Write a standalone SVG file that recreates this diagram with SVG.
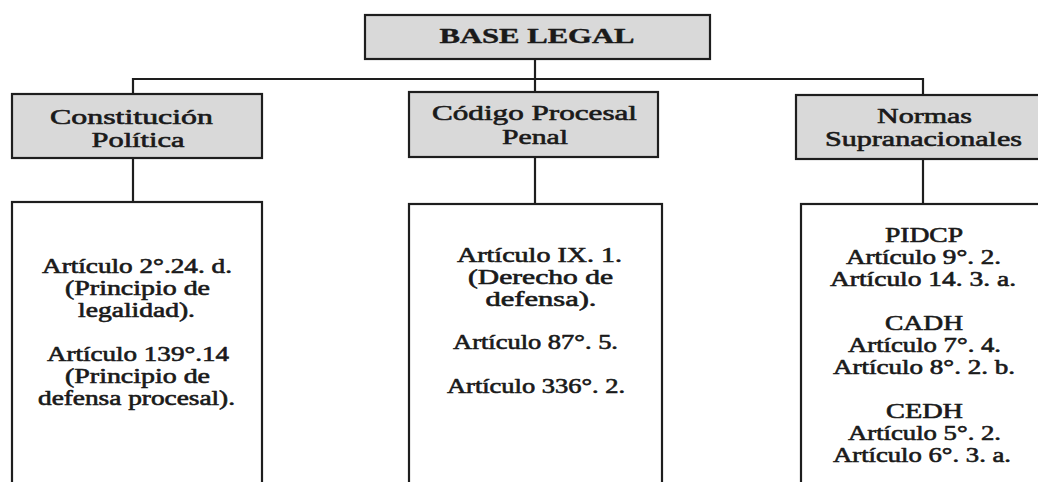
<svg xmlns="http://www.w3.org/2000/svg" width="1038" height="482" viewBox="0 0 1038 482">
<style>
  .hdr { fill: #d9d9d9; stroke: #1e1e1e; stroke-width: 2.2; }
  .box { fill: #ffffff; stroke: #1e1e1e; stroke-width: 2.2; }
  .con { fill: none; stroke: #1e1e1e; stroke-width: 2.2; }
  text { font-family: "Liberation Serif", "Times New Roman", serif; fill: #1a1a1a; stroke: #1a1a1a; stroke-width: 0.6; stroke-linejoin: round; text-anchor: middle; }
  .t { font-size: 21px; }
  .b { font-size: 20px; }
  .title { font-size: 20px; font-weight: bold; stroke-width: 0.4; }
</style>
<rect width="1038" height="482" fill="#ffffff"/>
<g id="connectors">
  <path class="con" d="M535 59 V79"/>
  <path class="con" d="M133 94 V79 H923 V96"/>
  <path class="con" d="M535 79 V92"/>
  <path class="con" d="M133 158 V202"/>
  <path class="con" d="M535 157 V204"/>
  <path class="con" d="M923 159 V204"/>
</g>
<g id="base-legal">
  <rect class="hdr" x="365" y="15" width="345" height="44"/>
  <text class="title" transform="translate(537 43) scale(1.53 1)" textLength="127.5" lengthAdjust="spacingAndGlyphs">BASE LEGAL</text>
</g>
<g id="constitucion">
  <rect class="hdr" x="12" y="94" width="250" height="64"/>
  <text class="t" transform="translate(131.5 124) scale(1.45 1)" textLength="112.4" lengthAdjust="spacingAndGlyphs">Constitución</text>
  <text class="t" transform="translate(138 147) scale(1.45 1)" textLength="64.1" lengthAdjust="spacingAndGlyphs">Política</text>
</g>
<g id="codigo">
  <rect class="hdr" x="409" y="92" width="249" height="65"/>
  <text class="t" transform="translate(534.5 120) scale(1.45 1)" textLength="141.4" lengthAdjust="spacingAndGlyphs">Código Procesal</text>
  <text class="t" transform="translate(535 144) scale(1.45 1)" textLength="45.5" lengthAdjust="spacingAndGlyphs">Penal</text>
</g>
<g id="normas">
  <rect class="hdr" x="796" y="95" width="260" height="64"/>
  <text class="t" transform="translate(924.5 123) scale(1.45 1)" textLength="65.5" lengthAdjust="spacingAndGlyphs">Normas</text>
  <text class="t" transform="translate(923.5 146) scale(1.45 1)" textLength="135.9" lengthAdjust="spacingAndGlyphs">Supranacionales</text>
</g>
<g id="constitucion-articulos">
  <rect class="box" x="12" y="202" width="250" height="300"/>
  <text class="b" transform="translate(137 273) scale(1.36 1)" textLength="139.7" lengthAdjust="spacingAndGlyphs">Artículo 2°.24. d.</text>
  <text class="b" transform="translate(137.5 295) scale(1.36 1)" textLength="106.6" lengthAdjust="spacingAndGlyphs">(Principio de</text>
  <text class="b" transform="translate(136.5 317) scale(1.36 1)" textLength="86" lengthAdjust="spacingAndGlyphs">legalidad).</text>
  <text class="b" transform="translate(138 361) scale(1.36 1)" textLength="133.8" lengthAdjust="spacingAndGlyphs">Artículo 139°.14</text>
  <text class="b" transform="translate(137.5 383) scale(1.36 1)" textLength="106.6" lengthAdjust="spacingAndGlyphs">(Principio de</text>
  <text class="b" transform="translate(136.5 405) scale(1.36 1)" textLength="144.9" lengthAdjust="spacingAndGlyphs">defensa procesal).</text>
</g>
<g id="codigo-articulos">
  <rect class="box" x="409" y="204" width="253" height="300"/>
  <text class="b" transform="translate(539.5 262) scale(1.36 1)" textLength="121.3" lengthAdjust="spacingAndGlyphs">Artículo IX. 1.</text>
  <text class="b" transform="translate(540.5 284) scale(1.36 1)" textLength="106.6" lengthAdjust="spacingAndGlyphs">(Derecho de</text>
  <text class="b" transform="translate(541 306) scale(1.36 1)" textLength="81.6" lengthAdjust="spacingAndGlyphs">defensa).</text>
  <text class="b" transform="translate(535.5 349) scale(1.36 1)" textLength="121.3" lengthAdjust="spacingAndGlyphs">Artículo 87°. 5.</text>
  <text class="b" transform="translate(536 393) scale(1.36 1)" textLength="130.9" lengthAdjust="spacingAndGlyphs">Artículo 336°. 2.</text>
</g>
<g id="normas-articulos">
  <rect class="box" x="801" y="204" width="260" height="300"/>
  <text class="b" transform="translate(924 242) scale(1.36 1)" textLength="57.4" lengthAdjust="spacingAndGlyphs">PIDCP</text>
  <text class="b" transform="translate(923.5 264) scale(1.36 1)" textLength="114" lengthAdjust="spacingAndGlyphs">Artículo 9°. 2.</text>
  <text class="b" transform="translate(923 286) scale(1.36 1)" textLength="136.8" lengthAdjust="spacingAndGlyphs">Artículo 14. 3. a.</text>
  <text class="b" transform="translate(924 330) scale(1.36 1)" textLength="57.4" lengthAdjust="spacingAndGlyphs">CADH</text>
  <text class="b" transform="translate(924.5 352) scale(1.36 1)" textLength="112.5" lengthAdjust="spacingAndGlyphs">Artículo 7°. 4.</text>
  <text class="b" transform="translate(924 374) scale(1.36 1)" textLength="133.8" lengthAdjust="spacingAndGlyphs">Artículo 8°. 2. b.</text>
  <text class="b" transform="translate(924.5 418) scale(1.36 1)" textLength="56.6" lengthAdjust="spacingAndGlyphs">CEDH</text>
  <text class="b" transform="translate(924.5 440) scale(1.36 1)" textLength="112.5" lengthAdjust="spacingAndGlyphs">Artículo 5°. 2.</text>
  <text class="b" transform="translate(922 462) scale(1.36 1)" textLength="130.9" lengthAdjust="spacingAndGlyphs">Artículo 6°. 3. a.</text>
</g>
</svg>
